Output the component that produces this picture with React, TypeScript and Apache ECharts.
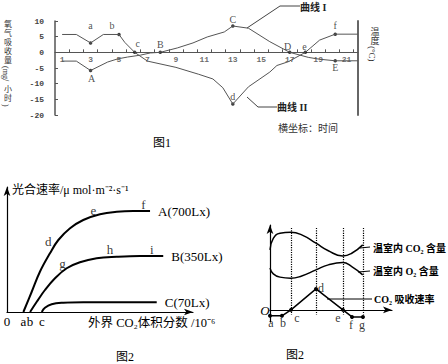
import React, { useEffect, useRef } from 'react';
import * as echarts from 'echarts';

// ---------- Figure 1 (hours vs oxygen uptake) ----------
const fig1TickHours = [1.5, 2.5, 3.5, 4.5, 5.5, 6.5, 7.5, 8.5, 9.5, 10.5, 11.5, 12.5, 13.5, 14.5, 15.5, 16.5, 17.5, 18.5, 19.5, 20.5, 21.5];
const fig1LabelHours = [1, 3, 5, 7, 9, 11, 13, 15, 17, 19, 21];
const fig1CurveI: number[][] = [
  [1, -2.8], [2, -2.8], [3, -5.8], [4.2, -3.1], [4.9, -2.1], [5.6, -1.5], [6.5, -0.9], [7.2, -0.2],
  [7.9, 0], [9.1, 1.4], [10.2, 3.0], [11.2, 4.9], [12.4, 6.5], [13, 8.4], [14.1, 7.7], [15.6, 3.4],
  [17, 0], [18.3, -1.6], [19.1, -2.2], [20.2, -2.7], [21.8, -2.7],
];
const fig1CurveII: number[][] = [
  [1, 5.7], [2, 5.7], [3, 3.0], [3.9, 5.7], [5, 5.7], [5.4, 3.2], [6.1, 0], [7, -2.8], [9, -4.8],
  [10.6, -7], [11.6, -8.5], [12.3, -11.3], [13, -16.5], [14.1, -11], [15.6, -6.3], [16.1, -4.2],
  [16.9, -3], [18.1, 0], [19.1, 3.9], [20.2, 5.8], [21.8, 5.8],
];
const fig1MarksI: [string, number][] = [['A', 2], ['B', 8], ['C', 13], ['D', 16], ['E', 19]];
const fig1MarksII: [string, number][] = [['a', 2], ['b', 4], ['c', 6], ['d', 12], ['e', 17], ['f', 19]];

// ---------- Figure 2 (photosynthesis vs CO2) ----------
const fig2CurveA: number[][] = [[8.8, 0], [13.3, 16.2], [17.7, 32.2], [23.1, 47], [27.6, 57.6], [33.9, 67], [41, 73.6], [50, 78.2], [59, 80.2], [67.9, 80.8], [76.9, 80.8]];
const fig2CurveB: number[][] = [[12.4, 0], [16, 8.2], [20.4, 17.6], [25.8, 27], [32.1, 35], [39.2, 39.8], [48.2, 43], [59, 44.2], [71.5, 44.8], [84, 44.8]];
const fig2CurveC: number[][] = [[18.7, 0], [20.4, 3.4], [24, 6.2], [30.3, 7.4], [41, 7.8], [59, 7.8], [80.5, 7.8]];
const fig2SeriesNames = ['A(700Lx)', 'B(350Lx)', 'C(70Lx)'];
const fig2TickLabels = ['0', 'a', 'b', 'c'];
const fig2Letters: [string, number, number][] = [
  ['d', 22.2, 56.2], ['e', 46.4, 81.6], ['f', 73.3, 86.2], ['g', 29.9, 39], ['h', 55.4, 50.4], ['i', 77.8, 50.4],
];

// ---------- Figure 3 (greenhouse) ----------
const fig3CO2Content: number[][] = [[0, 49.5], [2.7, 59], [8.2, 63.2], [17, 64], [26, 61.9], [37.7, 55], [47.8, 48.8], [59.6, 44.5], [67, 46.7], [76, 53.6]];
const fig3O2Content: number[][] = [[0, 34.4], [2.7, 29.7], [8.2, 27], [17, 26.1], [26, 28], [37.7, 33], [47.8, 37.1], [59.6, 39], [67, 35.7], [76, 28.9]];
const fig3Absorption: number[][] = [[0, -4.9], [9.8, -4.9], [17.2, 0], [37.7, 17.3], [59.8, 0], [67.2, -5.8], [76.2, -5.8]];
const fig3Letters = ['a', 'b', 'c', 'd', 'e', 'f', 'g'];
const fig3DottedAt = [2, 3, 4, 6];
const fig3DottedSpan = [-4.1, 67.6];

const SERIF = "'Liberation Serif', 'Noto Sans CJK SC', serif";
const MONO = "'Liberation Mono', 'DejaVu Sans Mono', monospace";

const fig1LetterOffset: Record<string, number[]> = {
  A: [1, 8], B: [0, -8], C: [0, -7], D: [-2, -6], E: [0, 7],
  a: [0, -17], b: [-7, -9], c: [3, -9], d: [0, -8], e: [-1, -6], f: [0, -9],
};
const fig3LetterOffset: number[][] = [[1, 7], [1, 7], [6, 8], [5, -1], [-5, 8], [-1, 8], [-1, 8]];

export default function App() {
  const ref = useRef<HTMLDivElement>(null);
  useEffect(() => {
    if (!ref.current) return;
    const chart = echarts.init(ref.current, undefined, { renderer: 'svg' });

    const marks = (curve: number[][], list: [string, number][]) =>
      list.map(([n, i]) => ({
        name: n,
        value: curve[i],
        label: { offset: fig1LetterOffset[n] },
      }));

    const hidden = { color: 'rgba(0,0,0,0)' };
    const fig2TickValues = [0, fig2CurveA[0][0], fig2CurveB[0][0], fig2CurveC[0][0]];

    const option: any = {
      animation: false,
      backgroundColor: '#fff',
      grid: [
        { left: 55, top: 21, width: 303, height: 94 },
        { left: 7, top: 187, width: 186, height: 125 },
        { left: 270, top: 225, width: 122, height: 97 },
      ],
      xAxis: [
        {
          type: 'value', gridIndex: 0, min: 0.5, max: 21.8,
          axisLine: { show: true, onZero: true, lineStyle: { color: '#555', width: 1.2 } },
          axisTick: { show: true, inside: true, length: 3, customValues: fig1TickHours, lineStyle: { color: '#555' } },
          axisLabel: { show: false },
          splitLine: { show: false },
        },
        {
          type: 'value', gridIndex: 1, min: 0, max: 100,
          axisLine: { show: true, symbol: ['none', 'arrow'], symbolSize: [5, 9], lineStyle: { color: '#000', width: 1.2 } },
          axisTick: { show: false },
          axisLabel: {
            customValues: fig2TickValues,
            formatter: (v: number) => {
              const i = fig2TickValues.findIndex((t) => Math.abs(t - v) < 1e-6);
              return i >= 0 ? fig2TickLabels[i] : '';
            },
            fontSize: 13, fontFamily: SERIF, color: '#000', margin: 3,
          },
          splitLine: { show: false },
        },
        {
          type: 'value', gridIndex: 2, min: 0, max: 100,
          axisLine: { show: true, onZero: true, symbol: ['none', 'arrow'], symbolSize: [5, 9], lineStyle: { color: '#000', width: 1.2 } },
          axisTick: { show: false },
          axisLabel: { show: false },
          splitLine: { show: false },
        },
      ],
      yAxis: [
        {
          type: 'value', gridIndex: 0, min: -20, max: 10, interval: 5,
          axisLine: { show: true, onZero: false, lineStyle: { color: '#555', width: 1.5 } },
          axisTick: { show: true, inside: true, length: 3, lineStyle: { color: '#555' } },
          axisLabel: { fontSize: 8, fontWeight: 'bold', fontFamily: MONO, color: '#444', margin: 11 },
          splitLine: { show: false },
        },
        {
          type: 'value', gridIndex: 0, min: -20, max: 10, position: 'right',
          axisLine: { show: true, onZero: false, lineStyle: { color: '#666', width: 2 } },
          axisTick: { show: false }, axisLabel: { show: false }, splitLine: { show: false },
        },
        {
          type: 'value', gridIndex: 1, min: 0, max: 100,
          axisLine: { show: true, onZero: false, symbol: ['none', 'arrow'], symbolSize: [5, 9], lineStyle: { color: '#000', width: 1.2 } },
          axisTick: { show: false }, axisLabel: { show: false }, splitLine: { show: false },
        },
        {
          type: 'value', gridIndex: 2, min: -10, max: 70,
          axisLine: { show: true, onZero: false, symbol: ['none', 'arrow'], symbolSize: [5, 9], lineStyle: { color: '#000', width: 1.2 } },
          axisTick: { show: false }, axisLabel: { show: false }, splitLine: { show: false },
        },
      ],
      series: [
        // Figure 1
        {
          type: 'line', name: '曲线 I', xAxisIndex: 0, yAxisIndex: 0, data: fig1CurveI,
          showSymbol: false, lineStyle: { color: '#555', width: 1 }, silent: true,
        },
        {
          type: 'line', name: '曲线 II', xAxisIndex: 0, yAxisIndex: 0, data: fig1CurveII,
          showSymbol: false, lineStyle: { color: '#555', width: 1 }, silent: true,
        },
        {
          type: 'scatter', xAxisIndex: 0, yAxisIndex: 0, clip: false, symbolSize: 3.5,
          itemStyle: { color: '#111' },
          data: [...marks(fig1CurveI, fig1MarksI), ...marks(fig1CurveII, fig1MarksII)],
          label: { show: true, formatter: '{b}', position: 'inside', fontSize: 10, fontFamily: SERIF, color: '#222' },
        },
        {
          // hour tick labels sitting under the zero line
          type: 'scatter', xAxisIndex: 0, yAxisIndex: 0, clip: false, symbolSize: 1, itemStyle: hidden, silent: true,
          data: fig1LabelHours.map((h) => ({ name: String(h), value: [h, 0] })),
          label: { show: true, formatter: '{b}', position: 'bottom', distance: 3, fontSize: 8, fontWeight: 'bold', fontFamily: MONO, color: '#444' },
        },
        // Figure 2
        ...[fig2CurveA, fig2CurveB, fig2CurveC].map((d, i) => ({
          type: 'line', name: fig2SeriesNames[i], xAxisIndex: 1, yAxisIndex: 2, data: d,
          smooth: 0.4, showSymbol: false, lineStyle: { color: '#000', width: 2 },
          endLabel: { show: true, formatter: '{a}', distance: 8, fontSize: 13, fontFamily: SERIF, color: '#000' },
        })),
        {
          type: 'scatter', xAxisIndex: 1, yAxisIndex: 2, clip: false, symbolSize: 1, itemStyle: hidden,
          data: fig2Letters.map(([n, x, y]) => ({ name: n, value: [x, y] })),
          label: { show: true, formatter: '{b}', position: 'inside', fontSize: 13, fontFamily: SERIF, color: '#000' },
        },
        // Figure 3
        {
          type: 'line', name: '温室内 CO₂ 含量', xAxisIndex: 2, yAxisIndex: 3, data: fig3CO2Content,
          smooth: 0.5, showSymbol: false, lineStyle: { color: '#000', width: 1.5 },
        },
        {
          type: 'line', name: '温室内 O₂ 含量', xAxisIndex: 2, yAxisIndex: 3, data: fig3O2Content,
          smooth: 0.5, showSymbol: false, lineStyle: { color: '#000', width: 1.5 },
        },
        {
          type: 'line', name: 'CO₂ 吸收速率', xAxisIndex: 2, yAxisIndex: 3, data: fig3Absorption,
          showSymbol: true, symbol: 'circle', symbolSize: 4, itemStyle: { color: '#000' },
          lineStyle: { color: '#000', width: 1.5 },
          label: { show: false },
          markLine: {
            silent: true, symbol: 'none', label: { show: false },
            lineStyle: { type: 'dotted', color: '#000', width: 1.2 },
            data: fig3DottedAt.map((i) => [
              { coord: [fig3Absorption[i][0], fig3DottedSpan[1]] },
              { coord: [fig3Absorption[i][0], fig3DottedSpan[0]] },
            ]),
          },
        },
        {
          type: 'scatter', xAxisIndex: 2, yAxisIndex: 3, clip: false, symbolSize: 1, itemStyle: hidden,
          data: fig3Absorption.map((p, i) => ({ name: fig3Letters[i], value: p, label: { offset: fig3LetterOffset[i] } })),
          label: { show: true, formatter: '{b}', position: 'inside', fontSize: 12, fontFamily: SERIF, color: '#000' },
        },
      ],
      graphic: [
        // Figure 1 left title (vertical)
        { type: 'text', x: 8, y: 20, style: { text: '氧\n气\n吸\n收\n量', font: `8px ${SERIF}`, lineHeight: 9, fill: '#333', align: 'center', verticalAlign: 'top' } },
        { type: 'text', x: 5, y: 66, rotation: -Math.PI / 2, style: { text: '(mg/', font: `8px ${SERIF}`, fill: '#333', align: 'left', verticalAlign: 'middle' } },
        { type: 'text', x: 8, y: 85, style: { text: '小\n时', font: `8px ${SERIF}`, lineHeight: 9, fill: '#333', align: 'center', verticalAlign: 'top' } },
        { type: 'text', x: 5, y: 104, rotation: -Math.PI / 2, style: { text: ')', font: `8px ${SERIF}`, fill: '#333', align: 'left', verticalAlign: 'middle' } },
        // Figure 1 right title
        { type: 'text', x: 375, y: 27, style: { text: '温\n度', font: `9px ${SERIF}`, lineHeight: 9, fill: '#333', align: 'center', verticalAlign: 'top' } },
        { type: 'text', x: 372, y: 46, rotation: -Math.PI / 2, style: { text: '(°C)', font: `9px ${SERIF}`, fill: '#333', align: 'left', verticalAlign: 'middle' } },
        // Figure 1 x title and caption
        { type: 'text', x: 278, y: 128, style: { text: '横坐标：时间', font: `10px ${SERIF}`, fill: '#333', align: 'left', verticalAlign: 'middle' } },
        { type: 'text', x: 162, y: 143, style: { text: '图1', font: `12px ${SERIF}`, fill: '#000', align: 'center', verticalAlign: 'middle' } },
        // Curve leaders
        { type: 'polyline', shape: { points: [[247, 28], [280, 6], [300, 6]] }, style: { stroke: '#444', lineWidth: 1, fill: 'none' } },
        { type: 'text', x: 300, y: 7, style: { text: '曲线 I', font: `bold 10px ${SERIF}`, fill: '#222', align: 'left', verticalAlign: 'middle' } },
        { type: 'polyline', shape: { points: [[247, 97], [258, 107], [277, 107]] }, style: { stroke: '#444', lineWidth: 1, fill: 'none' } },
        { type: 'text', x: 277, y: 107, style: { text: '曲线 II', font: `bold 10px ${SERIF}`, fill: '#222', align: 'left', verticalAlign: 'middle' } },
        // Figure 2 titles
        { type: 'text', x: 12, y: 190, style: { text: '光合速率/μ mol·m⁻²·s⁻¹', font: `12px ${SERIF}`, fill: '#000', align: 'left', verticalAlign: 'middle' } },
        { type: 'text', x: 88, y: 323, style: { text: '外界 CO₂体积分数 /10⁻⁶', font: `12.5px ${SERIF}`, fill: '#000', align: 'left', verticalAlign: 'middle' } },
        { type: 'text', x: 125, y: 357, style: { text: '图2', font: `12px ${SERIF}`, fill: '#000', align: 'center', verticalAlign: 'middle' } },
        // Figure 3
        { type: 'text', x: 265, y: 310, style: { text: 'O', font: `italic 13px ${SERIF}`, fill: '#000', align: 'center', verticalAlign: 'middle' } },
        { type: 'line', shape: { x1: 360, y1: 248, x2: 370, y2: 247 }, style: { stroke: '#000', lineWidth: 1 } },
        { type: 'text', x: 373, y: 248, style: { text: '温室内 CO₂ 含量', font: `bold 10px ${SERIF}`, fill: '#000', align: 'left', verticalAlign: 'middle' } },
        { type: 'line', shape: { x1: 358, y1: 272, x2: 370, y2: 271 }, style: { stroke: '#000', lineWidth: 1 } },
        { type: 'text', x: 373, y: 271, style: { text: '温室内 O₂ 含量', font: `bold 10px ${SERIF}`, fill: '#000', align: 'left', verticalAlign: 'middle' } },
        { type: 'line', shape: { x1: 327, y1: 299, x2: 372, y2: 299 }, style: { stroke: '#000', lineWidth: 1 } },
        { type: 'text', x: 374, y: 299, style: { text: 'CO₂ 吸收速率', font: `bold 10px ${SERIF}`, fill: '#000', align: 'left', verticalAlign: 'middle' } },
        { type: 'text', x: 295, y: 355, style: { text: '图2', font: `12px ${SERIF}`, fill: '#000', align: 'center', verticalAlign: 'middle' } },
      ],
    };
    chart.setOption(option);
    return () => chart.dispose();
  }, []);
  return <div ref={ref} style={{ position: 'absolute', left: 0, top: 0, width: 448, height: 364 }} />;
}
